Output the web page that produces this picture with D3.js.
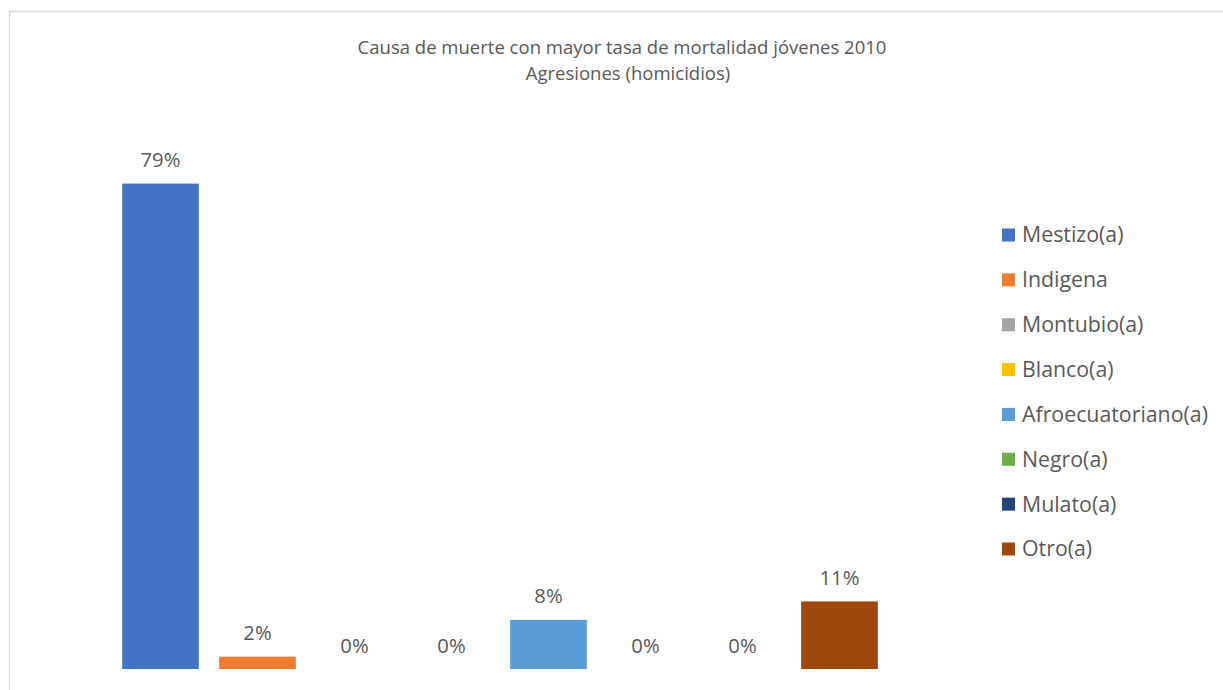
<!DOCTYPE html>
<html>
<head>
<meta charset="utf-8">
<script src="https://cdn.jsdelivr.net/npm/d3@7/dist/d3.min.js"></script>
<style>
  html, body { margin: 0; padding: 0; background: #fff; overflow: hidden; }
  text { font-family: "Open Sans", "Noto Sans", sans-serif; }
</style>
</head>
<body>
<svg id="chart" width="1223" height="690"></svg>
<script>
// ---- data ----
const categories = ["Mestizo(a)", "Indigena", "Montubio(a)", "Blanco(a)", "Afroecuatoriano(a)", "Negro(a)", "Mulato(a)", "Otro(a)"];
const values = [0.79, 0.02, 0.00, 0.00, 0.08, 0.00, 0.00, 0.11];
const colors = ["#4472C4", "#ED7D31", "#A5A5A5", "#FFC000", "#5B9BD5", "#70AD47", "#264478", "#9E480E"];
const titleLines = ["Causa de muerte con mayor tasa de mortalidad jóvenes 2010", "Agresiones (homicidios)"];

const svg = d3.select("#chart");
const textColor = "#595959";

// chart area border
svg.append("rect")
  .attr("x", 9.5).attr("y", 11.5)
  .attr("width", 1300).attr("height", 800)
  .attr("fill", "#fff")
  .attr("stroke", "#d9d9d9").attr("stroke-width", 1.5);

// fit helper: choose font size so text width matches target
function fit(sel, target) {
  const w = sel.node().getComputedTextLength();
  const fs = parseFloat(sel.attr("font-size"));
  sel.attr("font-size", (fs * target / w).toFixed(2));
}

// title
const t1 = svg.append("text").attr("x", 622).attr("y", 54)
  .attr("text-anchor", "middle").attr("fill", textColor).attr("font-size", 17)
  .text(titleLines[0]);
fit(t1, 529);
const t2 = svg.append("text").attr("x", 628).attr("y", 80)
  .attr("text-anchor", "middle").attr("fill", textColor).attr("font-size", +t1.attr("font-size"))
  .text(titleLines[1]);

// scales
const x = d3.scaleBand().domain(categories).range([112, 888])
  .paddingInner(0.21).paddingOuter(0.105);
const y = d3.scaleLinear().domain([0, 0.9]).range([669, 116]);
const color = d3.scaleOrdinal().domain(categories).range(colors);

const data = categories.map((c, i) => ({ cat: c, v: values[i] }));

// bars
svg.append("g").selectAll("rect").data(data).join("rect")
  .attr("x", d => x(d.cat))
  .attr("y", d => y(d.v))
  .attr("width", x.bandwidth())
  .attr("height", d => y(0) - y(d.v))
  .attr("fill", d => color(d.cat));

// value labels
const fmt = d3.format(".0%");
const labels = svg.append("g").selectAll("text").data(data).join("text")
  .attr("x", d => x(d.cat) + x.bandwidth() / 2)
  .attr("y", d => y(d.v) - 16.5)
  .attr("text-anchor", "middle")
  .attr("fill", textColor)
  .attr("font-size", 21)
  .text(d => fmt(d.v));
{
  const first = labels.filter((d, i) => i === 0);
  const w0 = first.node().getComputedTextLength();
  labels.attr("font-size", (21 * 40 / w0).toFixed(2));
}

// legend
const legend = svg.append("g");
const rowY = d3.scalePoint().domain(categories).range([235, 549]);
const items = legend.selectAll("g").data(categories).join("g")
  .attr("transform", d => `translate(1002, ${rowY(d)})`);
items.append("rect")
  .attr("x", 0).attr("y", -6.5).attr("width", 13).attr("height", 13)
  .attr("fill", d => color(d));
items.append("text")
  .attr("x", 20).attr("y", 0).attr("dy", "0.35em")
  .attr("fill", textColor).attr("font-size", 19)
  .text(d => d);
const afro = items.filter(d => d === "Afroecuatoriano(a)").select("text");
const w = afro.node().getComputedTextLength();
const fsL = (19 * 186 / w).toFixed(2);
items.selectAll("text").attr("font-size", fsL);
</script>
</body>
</html>
